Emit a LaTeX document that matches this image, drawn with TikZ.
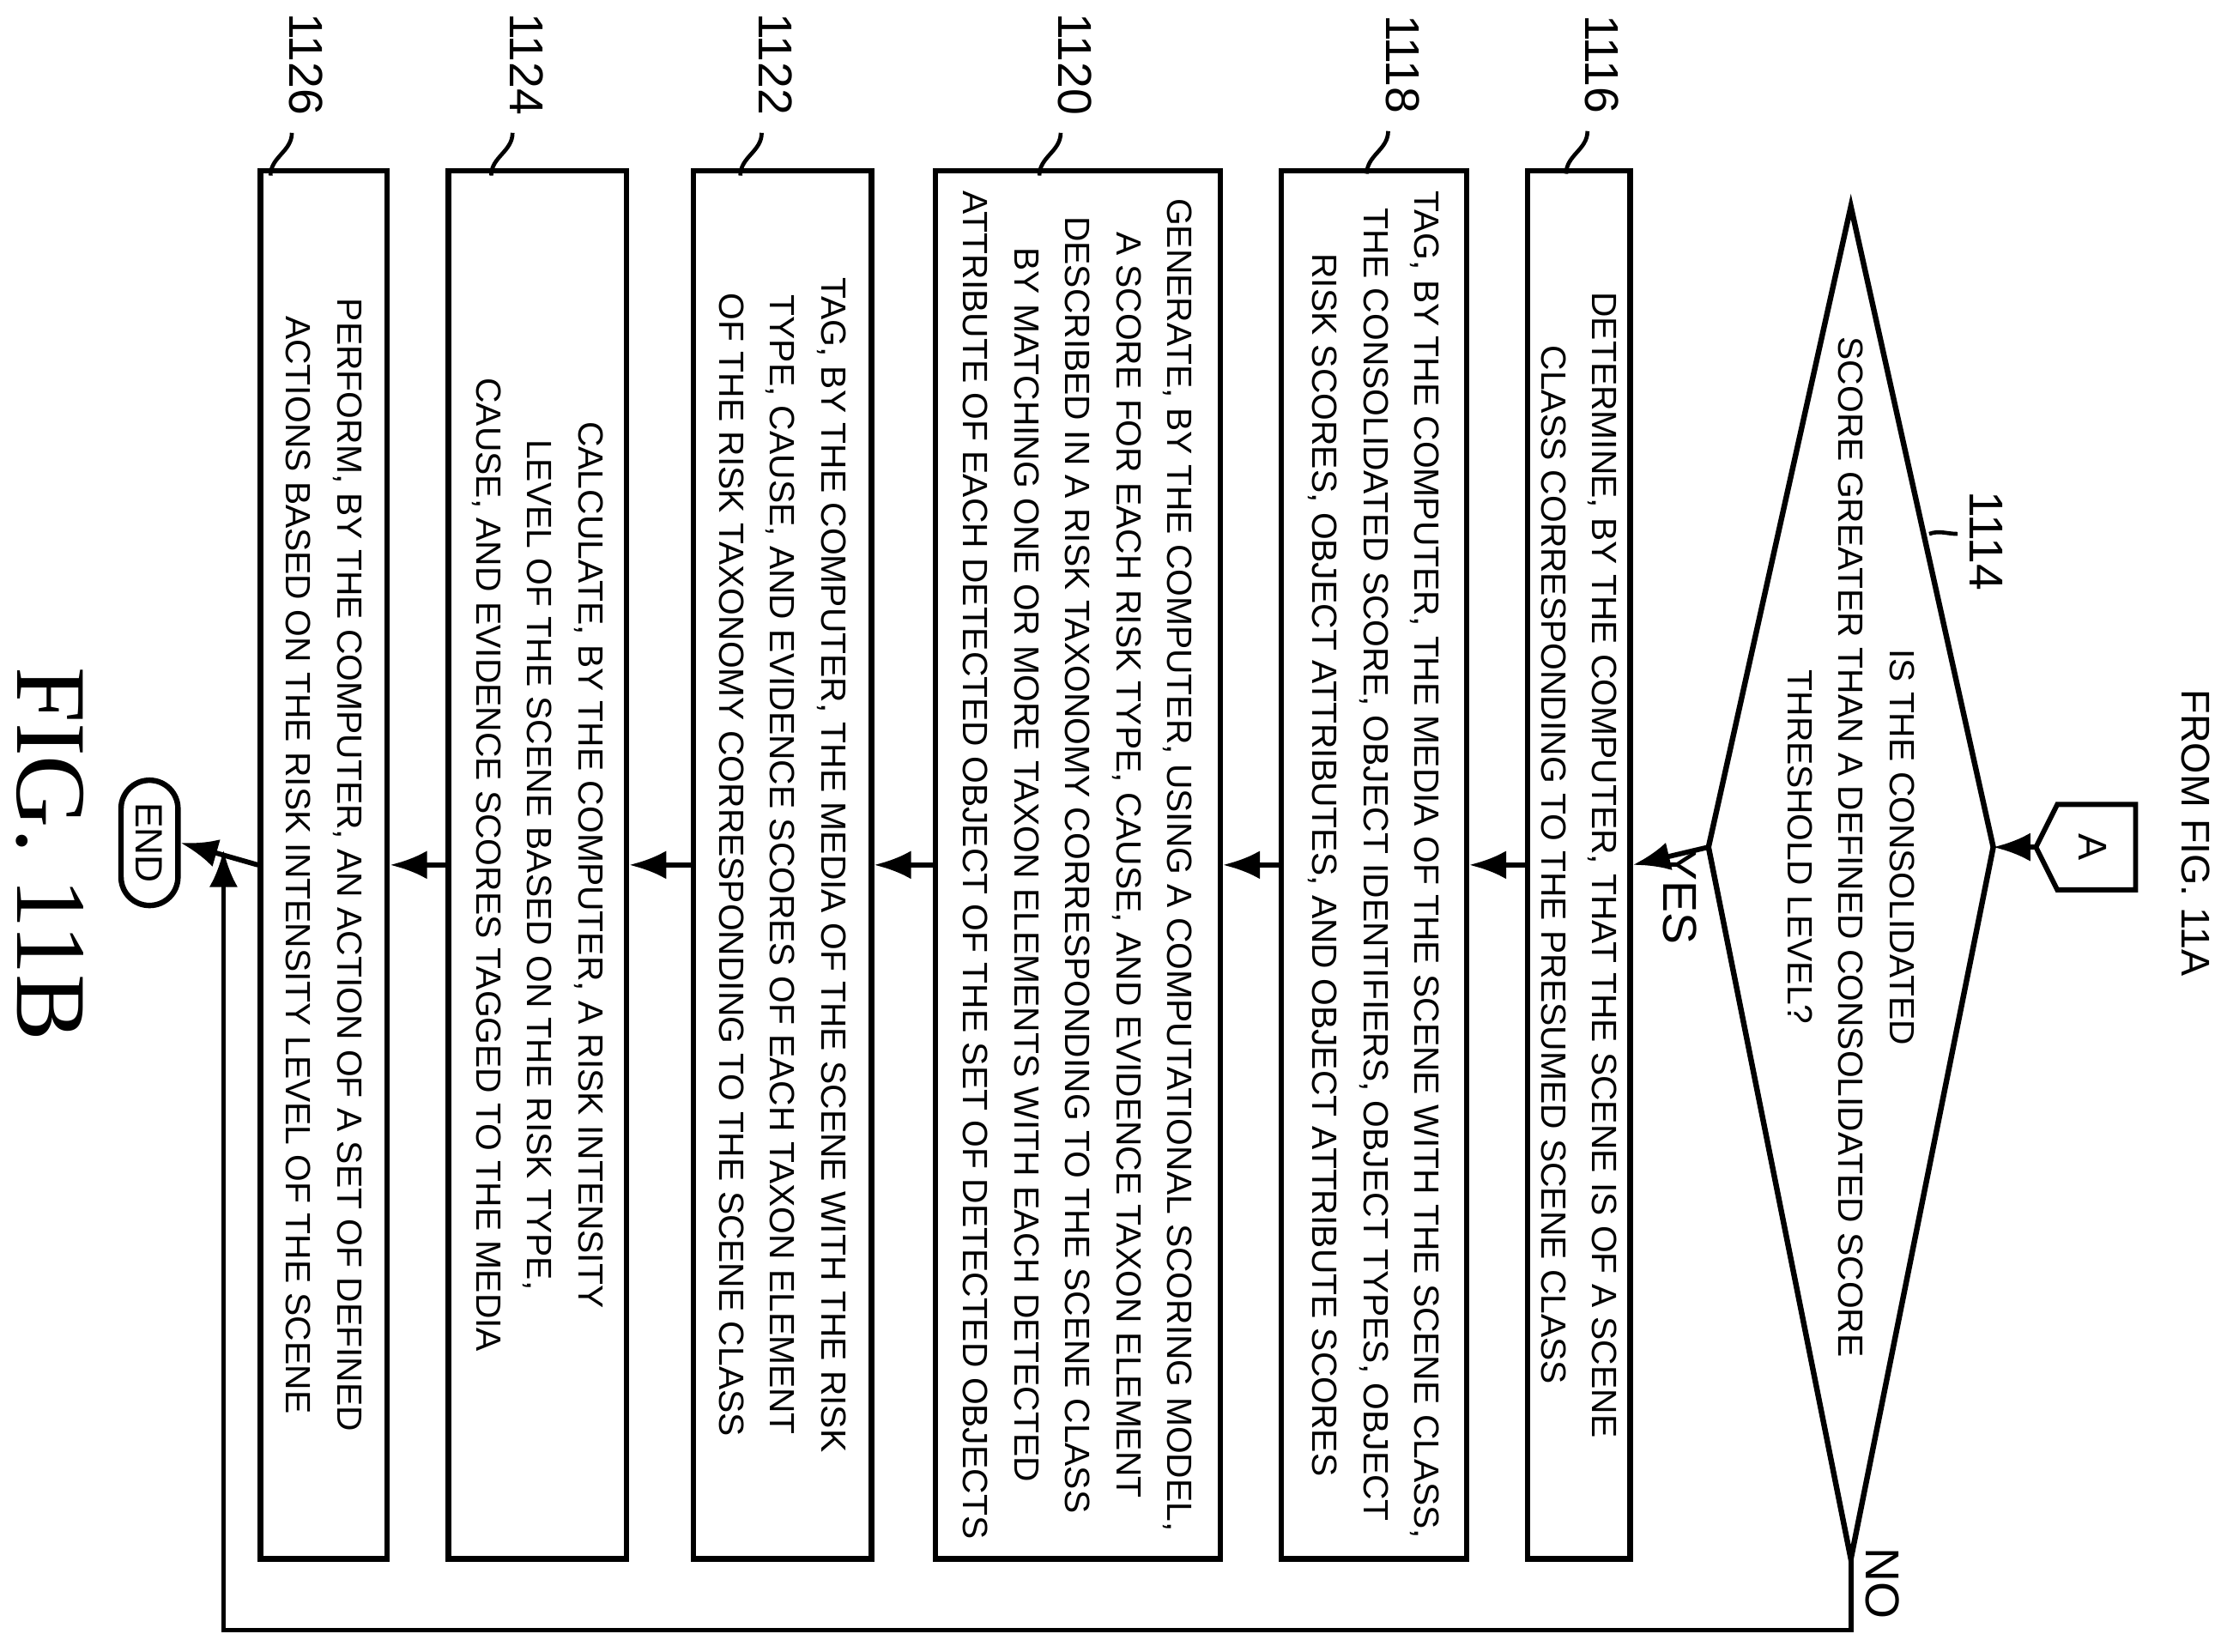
\documentclass[tikz,border=0pt]{standalone}
\usepackage{fontspec}
\setmainfont{Liberation Sans}
\usetikzlibrary{arrows.meta,shapes.geometric,shapes.misc}
\tikzset{
    box/.style={draw, line width=1.1pt, rotate=-90, align=center, inner sep=0pt,
        font=\fontsize{7.0}{10.2}\selectfont},
    lbl/.style={rotate=-90, font=\fontsize{9.5}{11}\selectfont},
    flow/.style={line width=1pt, -{Latex[length=2.6mm,width=2mm]}}
}
\begin{document}
\begin{tikzpicture}
    \useasboundingbox (0,0) rectangle (15.6,-11.6);
    % off-page connector
    \node (A) at (14.7,-5.95) [rotate=-90, font=\fontsize{8}{10}\selectfont] {A};
    \draw[line width=1pt] (14.45,-5.65) -- (15.0,-5.65) -- (15.0,-6.25) -- (14.45,-6.25) -- (14.3,-5.95) -- cycle;
    \coordinate (Aout) at (14.3,-5.95);
    \node[lbl, font=\fontsize{8}{10}\selectfont] (from) at (15.42,-5.85) {FROM FIG. 11A};
    % Decision
    \coordinate (dR) at (14.0,-5.95);
    \coordinate (dL) at (12.0,-5.95);
    \coordinate (dT) at (13.0,-1.45);
    \coordinate (dB) at (13.0,-10.95);
    \draw[line width=1.1pt] (dR) -- (dT) -- (dL) -- (dB) -- cycle;
    \node[rotate=-90, align=center, font=\fontsize{7.0}{10.2}\selectfont] (q) at (13.0,-5.95)
        {IS THE CONSOLIDATED\\SCORE GREATER THAN A DEFINED CONSOLIDATED SCORE\\THRESHOLD LEVEL?};
    \node[lbl] (n1114) at (13.95,-3.8) {1114};
    \draw[line width=0.8pt] (13.75,-3.75) to[out=180,in=20] (13.55,-3.75);
    % Process boxes
    \node[box, minimum width=9.75cm, minimum height=0.72cm] (b1116) at (11.09,-6.075)
        {DETERMINE, BY THE COMPUTER, THAT THE SCENE IS OF A SCENE\\CLASS CORRESPONDING TO THE PRESUMED SCENE CLASS};
    \node[box, minimum width=9.75cm, minimum height=1.30cm] (b1118) at (9.65,-6.075)
        {TAG, BY THE COMPUTER, THE MEDIA OF THE SCENE WITH THE SCENE CLASS,\\THE CONSOLIDATED SCORE, OBJECT IDENTIFIERS, OBJECT TYPES, OBJECT\\RISK SCORES, OBJECT ATTRIBUTES, AND OBJECT ATTRIBUTE SCORES};
    \node[box, minimum width=9.75cm, minimum height=2.0cm] (b1120) at (7.57,-6.075)
        {GENERATE, BY THE COMPUTER, USING A COMPUTATIONAL SCORING MODEL,\\A SCORE FOR EACH RISK TYPE, CAUSE, AND EVIDENCE TAXON ELEMENT\\DESCRIBED IN A RISK TAXONOMY CORRESPONDING TO THE SCENE CLASS\\BY MATCHING ONE OR MORE TAXON ELEMENTS WITH EACH DETECTED\\ATTRIBUTE OF EACH DETECTED OBJECT OF THE SET OF DETECTED OBJECTS};
    \node[box, minimum width=9.75cm, minimum height=1.25cm] (b1122) at (5.495,-6.075)
        {TAG, BY THE COMPUTER, THE MEDIA OF THE SCENE WITH THE RISK\\TYPE, CAUSE, AND EVIDENCE SCORES OF EACH TAXON ELEMENT\\OF THE RISK TAXONOMY CORRESPONDING TO THE SCENE CLASS};
    \node[box, minimum width=9.75cm, minimum height=1.25cm] (b1124) at (3.775,-6.075)
        {CALCULATE, BY THE COMPUTER, A RISK INTENSITY\\LEVEL OF THE SCENE BASED ON THE RISK TYPE,\\CAUSE, AND EVIDENCE SCORES TAGGED TO THE MEDIA};
    \node[box, minimum width=9.75cm, minimum height=0.89cm] (b1126) at (2.275,-6.075)
        {PERFORM, BY THE COMPUTER, AN ACTION OF A SET OF DEFINED\\ACTIONS BASED ON THE RISK INTENSITY LEVEL OF THE SCENE};
    \node[draw, line width=1.1pt, rounded rectangle, rotate=-90, minimum width=0.95cm, minimum height=0.4cm,
        inner sep=1pt, font=\fontsize{7.6}{10}\selectfont] (end) at (1.05,-5.92) {END};
    \node[rotate=-90, font=\fontsize{20}{22}\selectfont\setmainfont{Liberation Serif}] (fig) at (0.35,-6.0) {FIG. 11B};
    % Reference labels
    \foreach \b/\x in {1116/11.25,1118/9.85,1120/7.55,1122/5.45,1124/3.7,1126/2.15} {
        \node[lbl] (n\b) at (\x,-0.45) {\b};
        \draw[line width=0.8pt] ([xshift=-1mm]n\b.east) to[out=-90,in=90] ([xshift=-2.5mm,yshift=-3mm]n\b.east);
    }
    % Arrows
    \draw[flow] (Aout) -- (dR);
    \draw[flow] (dL) -- (b1116.north);
    \draw[flow] (b1116.south) -- (b1118.north);
    \draw[flow] (b1118.south) -- (b1120.north);
    \draw[flow] (b1120.south) -- (b1122.north);
    \draw[flow] (b1122.south) -- (b1124.north);
    \draw[flow] (b1124.south) -- (b1126.north);
    \draw[flow] (b1126.south) -- (end.north);
    \draw[flow] (dB) -- (13.0,-11.45) -| (1.57,-5.97);
    \node[lbl] (yes) at (11.8,-6.3) {YES};
    \node[lbl] (no) at (13.22,-11.12) {NO};
\end{tikzpicture}
\end{document}
